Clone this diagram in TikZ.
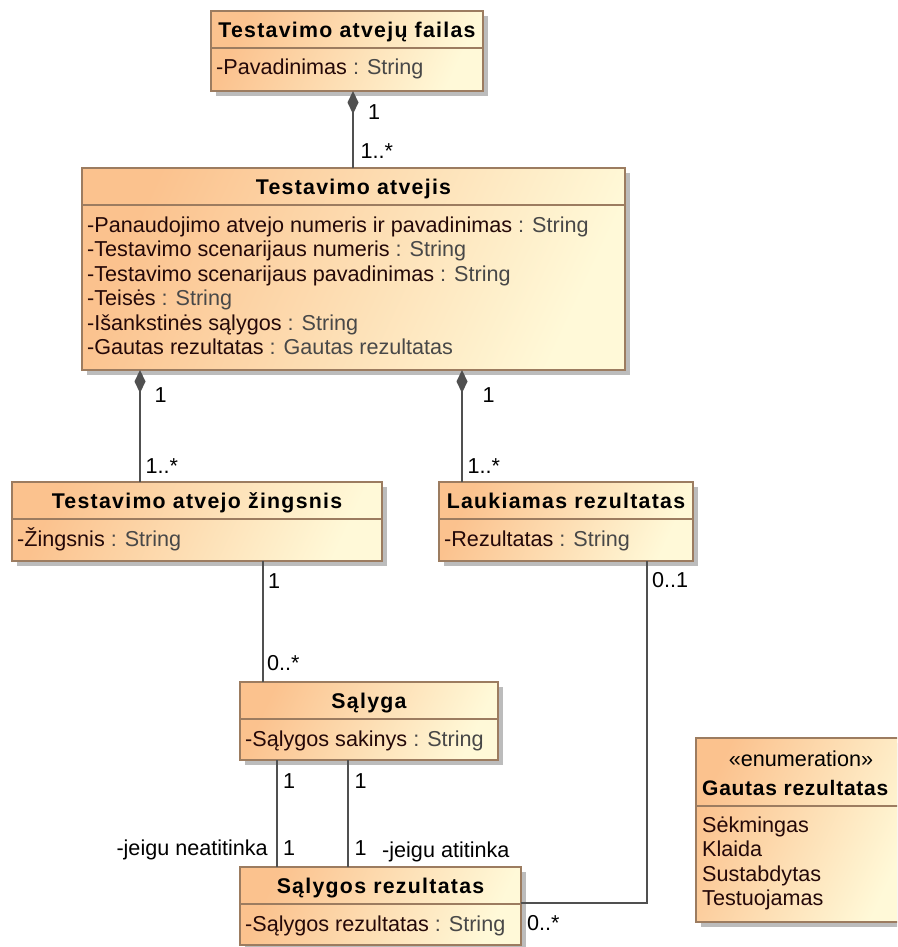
\documentclass[tikz,border=0pt]{standalone}
\usepackage{fontspec}
\setmainfont{Liberation Sans}
\newfontfamily\hdrfont{Liberation Sans}[LetterSpace=6]
\newfontfamily\enumhdrfont{Liberation Sans}[LetterSpace=3.5]
\usetikzlibrary{arrows.meta,shadows}

\definecolor{boxL}{RGB}{251,194,142}
\definecolor{boxR}{RGB}{255,249,216}
\definecolor{boxline}{RGB}{156,124,96}
\definecolor{shadowc}{RGB}{188,188,188}
\definecolor{namec}{RGB}{36,8,8}
\definecolor{typec}{RGB}{72,72,72}
\definecolor{linkc}{RGB}{80,80,80}

% attribute line: name in dark, type in grey
\newcommand\attr[2]{{\color{namec}#1} {\color{typec}: #2}}

\begin{document}
\begin{tikzpicture}[x=1pt,y=-1pt,
  font=\fontsize{21.6}{24.5}\selectfont,
  classbox/.style={draw=boxline, line width=1.6pt, inner sep=0pt, outer sep=0pt,
    left color=boxL, right color=boxR, shading angle=65,
    drop shadow={shadow xshift=5pt, shadow yshift=-5pt, fill=shadowc, opacity=1}},
  divider/.style={draw=boxline, line width=1.6pt},
  title/.style={inner sep=0pt, anchor=base, text=black,
    font=\hdrfont\bfseries\fontsize{21.3}{24.5}\selectfont},
  plaintitle/.style={inner sep=0pt, anchor=base, text=black},
  attrs/.style={inner sep=0pt, anchor=base west},
  mult/.style={inner sep=0pt, anchor=base west, text=black},
  assoc/.style={draw=linkc, line width=2pt},
  comp/.style={assoc, -{Diamond[length=23pt,width=11pt]}},
]
\useasboundingbox (0,0) rectangle (897,947);
\clip (0,0) rectangle (897,947);
\fill[white] (0,0) rectangle (897,947);

% ---------- classes ----------
\node[classbox, minimum width=272pt, minimum height=80pt] (failas) at (347,51) {};
\draw[divider] (failas.west |- 0,48) -- (failas.east |- 0,48);
\node[title] (failas-t) at (347,37.5) {Testavimo atvejų failas};
\node[attrs] (failas-a1) at (216,75) {\attr{-Pavadinimas}{String}};

\node[classbox, minimum width=543pt, minimum height=202pt] (atvejis) at (353.5,269) {};
\draw[divider] (atvejis.west |- 0,205) -- (atvejis.east |- 0,205);
\node[title] (atvejis-t) at (353.5,194.5) {Testavimo atvejis};
\node[attrs] (atvejis-a1) at (87,232)   {\attr{-Panaudojimo atvejo numeris ir pavadinimas}{String}};
\node[attrs] (atvejis-a2) at (87,256.5) {\attr{-Testavimo scenarijaus numeris}{String}};
\node[attrs] (atvejis-a3) at (87,281)   {\attr{-Testavimo scenarijaus pavadinimas}{String}};
\node[attrs] (atvejis-a4) at (87,305.5) {\attr{-Teisės}{String}};
\node[attrs] (atvejis-a5) at (87,330)   {\attr{-Išankstinės sąlygos}{String}};
\node[attrs] (atvejis-a6) at (87,354.5) {\attr{-Gautas rezultatas}{Gautas rezultatas}};

\node[classbox, minimum width=370pt, minimum height=79pt] (zingsnis) at (197,521.5) {};
\draw[divider] (zingsnis.west |- 0,519) -- (zingsnis.east |- 0,519);
\node[title] (zingsnis-t) at (197,508.5) {Testavimo atvejo žingsnis};
\node[attrs] (zingsnis-a1) at (17,546) {\attr{-Žingsnis}{String}};

\node[classbox, minimum width=254pt, minimum height=79pt] (laukiamas) at (566,521.5) {};
\draw[divider] (laukiamas.west |- 0,519) -- (laukiamas.east |- 0,519);
\node[title] (laukiamas-t) at (566,508.5) {Laukiamas rezultatas};
\node[attrs] (laukiamas-a1) at (444,546) {\attr{-Rezultatas}{String}};

\node[classbox, minimum width=258pt, minimum height=78pt] (salyga) at (369,721) {};
\draw[divider] (salyga.west |- 0,719) -- (salyga.east |- 0,719);
\node[title] (salyga-t) at (369,708.5) {Sąlyga};
\node[attrs] (salyga-a1) at (245,746) {\attr{-Sąlygos sakinys}{String}};

\node[classbox, minimum width=281pt, minimum height=78pt] (slrez) at (380.5,906) {};
\draw[divider] (slrez.west |- 0,904) -- (slrez.east |- 0,904);
\node[title] (slrez-t) at (380.5,893.5) {Sąlygos rezultatas};
\node[attrs] (slrez-a1) at (245,931) {\attr{-Sąlygos rezultatas}{String}};

% enumeration
\node[classbox, minimum width=210pt, minimum height=184pt] (enum) at (801,830) {};
\draw[divider] (enum.west |- 0,806) -- (enum.east |- 0,806);
\node[plaintitle] (enum-s) at (801,766) {«enumeration»};
\node[title, anchor=base west, font=\enumhdrfont\bfseries\fontsize{21}{24.5}\selectfont]
  (enum-t) at (702,795) {Gautas rezultatas};
\node[attrs, text=namec] (enum-l1) at (702,832)   {Sėkmingas};
\node[attrs, text=namec] (enum-l2) at (702,856.5) {Klaida};
\node[attrs, text=namec] (enum-l3) at (702,881)   {Sustabdytas};
\node[attrs, text=namec] (enum-l4) at (702,905.5) {Testuojamas};

% ---------- connectors ----------
\coordinate (cT) at (353,0);
\coordinate (cL) at (140,0);
\coordinate (cR) at (462,0);
\coordinate (cS) at (263,0);
\coordinate (cA) at (277,0);
\coordinate (cB) at (348,0);
\coordinate (bend) at (647,903);

\draw[comp] (atvejis.north -| cT) -- (failas.south -| cT);
\draw[comp] (zingsnis.north -| cL) -- (atvejis.south -| cL);
\draw[comp] (laukiamas.north -| cR) -- (atvejis.south -| cR);
\draw[assoc] (zingsnis.south -| cS) -- (salyga.north -| cS);
\draw[assoc] (salyga.south -| cA) -- (slrez.north -| cA);
\draw[assoc] (salyga.south -| cB) -- (slrez.north -| cB);
\draw[assoc] (laukiamas.south -| bend) -- (bend) -- (slrez.east |- bend);

% ---------- multiplicities and role names ----------
\node[mult] (m1) at (368,120) {1};
\node[mult] (m2) at (360.5,158) {1..*};
\node[mult] (m3) at (154.5,402) {1};
\node[mult] (m4) at (145.5,473) {1..*};
\node[mult] (m5) at (482.5,402) {1};
\node[mult] (m6) at (467.5,473) {1..*};
\node[mult] (m7) at (268,588) {1};
\node[mult] (m8) at (267,670) {0..*};
\node[mult] (m9) at (652,587) {0..1};
\node[mult] (m10) at (527,930) {0..*};
\node[mult] (m11) at (283,788) {1};
\node[mult] (m12) at (283,855) {1};
\node[mult] (m13) at (354.5,788) {1};
\node[mult] (m14) at (354.5,855) {1};
\node[mult, anchor=base east] (r1) at (268,855) {-jeigu neatitinka};
\node[mult] (r2) at (382,857) {-jeigu atitinka};
\end{tikzpicture}
\end{document}
